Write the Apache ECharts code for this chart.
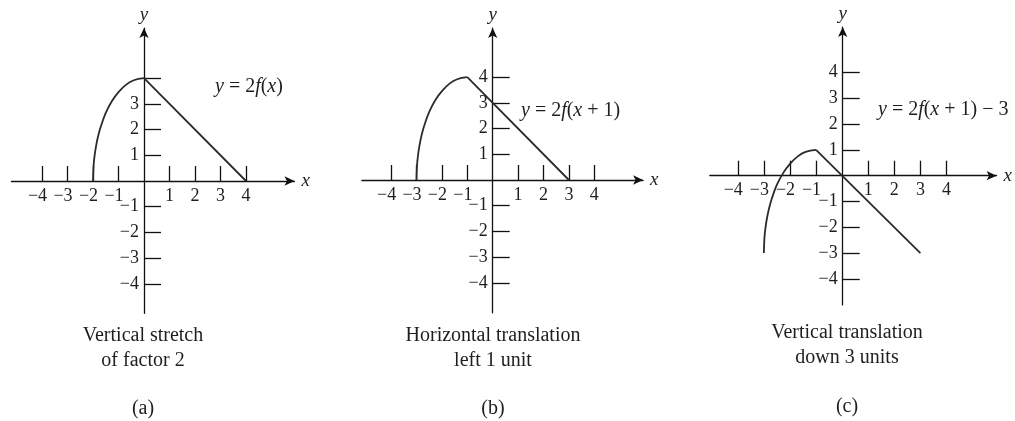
<!DOCTYPE html>
<html>
<head>
<meta charset="utf-8">
<script src="https://cdn.jsdelivr.net/npm/echarts@6/dist/echarts.min.js"></script>
<style>
  html, body { margin: 0; padding: 0; background: #ffffff; }
  #chart { width: 1015px; height: 421px; }
</style>
</head>
<body>
<div id="chart"></div>
<script>
// Tick values shared by all three panels
const xTickValues = [-4, -3, -2, -1, 1, 2, 3, 4];
const yTickValues = [-4, -3, -2, -1, 1, 2, 3, 4];
// Panel (a) has no "4" label on the y axis (the curve peaks there)
const yLabelValuesA = [-4, -3, -2, -1, 1, 2, 3];
const yLabelValuesBC = [-4, -3, -2, -1, 1, 2, 3, 4];

// (a) y = 2f(x): curved piece then straight piece
const arcA = [[-2, 0], [-1.98, 0.56], [-1.94, 0.97], [-1.88, 1.36], [-1.8, 1.74], [-1.7, 2.1],
              [-1.5, 2.65], [-1.25, 3.12], [-1, 3.46], [-0.7, 3.75], [-0.4, 3.92], [0, 4]];
const lineA = [[0, 4], [4, 0]];

// (b) y = 2f(x + 1)
const arcB = [[-3, 0], [-2.98, 0.56], [-2.94, 0.97], [-2.88, 1.36], [-2.8, 1.74], [-2.7, 2.1],
              [-2.5, 2.65], [-2.25, 3.12], [-2, 3.46], [-1.7, 3.75], [-1.4, 3.92], [-1, 4]];
const lineB = [[-1, 4], [3, 0]];

// (c) y = 2f(x + 1) - 3
const arcC = [[-3, -3], [-2.98, -2.44], [-2.94, -2.03], [-2.88, -1.64], [-2.8, -1.26], [-2.7, -0.9],
              [-2.5, -0.35], [-2.25, 0.12], [-2, 0.46], [-1.7, 0.75], [-1.4, 0.92], [-1, 1]];
const lineC = [[-1, 1], [3, -3]];

const SERIF = "'Liberation Serif', 'DejaVu Serif', serif";
const INK = '#1e1e1e';
const TICK_FONT = 18;

// Panel geometry: origin in pixels, pixels per unit, and visible range in units
const panels = [
  { ox: 144,   oy: 181,   ux: 25.5, uy: 25.7, xr: [-5.2, 5.9],   yr: [-5.15, 5.95], yLabels: yLabelValuesA,  arc: arcA, line: lineA },
  { ox: 492.7, oy: 180,   ux: 25.4, uy: 25.7, xr: [-5.15, 5.92], yr: [-5.17, 5.91], yLabels: yLabelValuesBC, arc: arcB, line: lineB },
  { ox: 842.7, oy: 175.7, ux: 26.2, uy: 25.8, xr: [-5.07, 5.92], yr: [-5.01, 5.76], yLabels: yLabelValuesBC, arc: arcC, line: lineC }
];

function numLabel(v) {
  return v < 0 ? '{n|\u2212' + (-v) + '}' : '{p|' + v + '}';
}
function yNumLabel(v) {
  return v < 0 ? '\u2212' + (-v) : String(v);
}

const grids = [], xAxes = [], yAxes = [], series = [];
panels.forEach((p, i) => {
  grids.push({
    left: p.ox + p.xr[0] * p.ux,
    top: p.oy - p.yr[1] * p.uy,
    width: (p.xr[1] - p.xr[0]) * p.ux,
    height: (p.yr[1] - p.yr[0]) * p.uy
  });
  // Axes are shifted from the grid edge onto the origin
  xAxes.push({
    type: 'value', gridIndex: i, min: p.xr[0], max: p.xr[1],
    position: 'bottom', offset: p.yr[0] * p.uy,
    name: 'x', nameLocation: 'end', nameGap: 7,
    nameTextStyle: { fontFamily: SERIF, fontStyle: 'italic', fontSize: 19, color: INK, verticalAlign: 'middle' },
    axisLine: { onZero: false, symbol: ['none', 'arrow'], symbolSize: [7, 10], lineStyle: { color: '#111', width: 1.3 } },
    axisTick: { show: true, inside: true, length: 15, customValues: xTickValues, lineStyle: { color: '#111', width: 1.3 } },
    axisLabel: {
      show: true, customValues: xTickValues, margin: 6, formatter: numLabel,
      rich: {
        n: { fontFamily: SERIF, fontSize: TICK_FONT, color: INK, padding: [0, 9, 0, 0] },
        p: { fontFamily: SERIF, fontSize: TICK_FONT, color: INK }
      }
    },
    splitLine: { show: false }
  });
  yAxes.push({
    type: 'value', gridIndex: i, min: p.yr[0], max: p.yr[1],
    position: 'left', offset: p.xr[0] * p.ux,
    name: 'y', nameLocation: 'end', nameGap: 4,
    nameTextStyle: { fontFamily: SERIF, fontStyle: 'italic', fontSize: 19, color: INK },
    axisLine: { onZero: false, symbol: ['none', 'arrow'], symbolSize: [7, 10], lineStyle: { color: '#111', width: 1.3 } },
    axisTick: { show: true, inside: true, length: 17, customValues: yTickValues, lineStyle: { color: '#111', width: 1.3 } },
    axisLabel: {
      show: true, customValues: p.yLabels, margin: 5, formatter: yNumLabel,
      fontFamily: SERIF, fontSize: TICK_FONT, color: INK
    },
    splitLine: { show: false }
  });
  series.push({
    type: 'line', xAxisIndex: i, yAxisIndex: i, data: p.arc, smooth: 0.4,
    showSymbol: false, lineStyle: { color: '#2b2b2b', width: 1.8 }, silent: true
  });
  series.push({
    type: 'line', xAxisIndex: i, yAxisIndex: i, data: p.line,
    showSymbol: false, lineStyle: { color: '#2b2b2b', width: 1.8 }, silent: true
  });
});

const eqRich = {
  i: { fontFamily: SERIF, fontStyle: 'italic', fontSize: 20, fill: INK },
  r: { fontFamily: SERIF, fontSize: 20, fill: INK }
};
function eqText(x, y, text) {
  return { type: 'text', left: x, top: y, style: { text: text, rich: eqRich, fill: INK } };
}
function caption(cx, y, text) {
  return {
    type: 'text', x: cx, y: y,
    style: { text: text, fontFamily: SERIF, fontSize: 20, fill: INK, align: 'center', verticalAlign: 'middle' }
  };
}

const chart = echarts.init(document.getElementById('chart'), null, { renderer: 'canvas' });
chart.setOption({
  backgroundColor: '#ffffff',
  animation: false,
  grid: grids,
  xAxis: xAxes,
  yAxis: yAxes,
  series: series,
  graphic: [
    eqText(215, 77, '{i|y}{r| = 2}{i|f}{r|(}{i|x}{r|)}'),
    eqText(521, 101, '{i|y}{r| = 2}{i|f}{r|(}{i|x}{r| + 1)}'),
    eqText(878, 100, '{i|y}{r| = 2}{i|f}{r|(}{i|x}{r| + 1) \u2212 3}'),
    caption(143, 336, 'Vertical stretch'),
    caption(143, 361, 'of factor 2'),
    caption(143, 409, '(a)'),
    caption(493, 336, 'Horizontal translation'),
    caption(493, 361, 'left 1 unit'),
    caption(493, 409, '(b)'),
    caption(847, 333, 'Vertical translation'),
    caption(847, 358, 'down 3 units'),
    caption(847, 407, '(c)')
  ]
});
</script>
</body>
</html>
